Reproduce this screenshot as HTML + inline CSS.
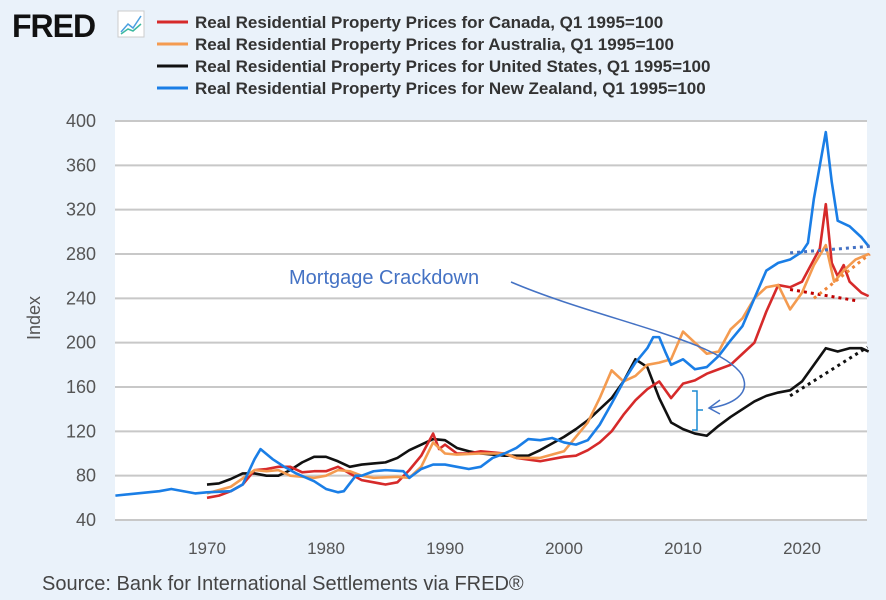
<!DOCTYPE html>
<html><head><meta charset="utf-8"><style>
body{margin:0;width:886px;height:600px;background:#eaf2fa;font-family:"Liberation Sans",sans-serif;overflow:hidden}
svg{position:absolute;left:0;top:0}
</style></head><body>
<svg id="c" width="886" height="600">
<text x="12" y="37" font-size="32" font-weight="bold" fill="#111" letter-spacing="-1">FRED</text>
<g><rect x="118" y="11" width="26" height="26" fill="#fff" stroke="#ccc"/><polyline points="121,32 128,24 133,28 141,16" fill="none" stroke="#4a9fe0" stroke-width="1.5"/><polyline points="121,34 128,29 133,31 141,24" fill="none" stroke="#3cb9a0" stroke-width="1.5"/></g>
<g id="legend"></g>
<g id="grid"></g><g id="series"></g>
<text x="42" y="590" font-size="20" fill="#444">Source: Bank for International Settlements via FRED®</text>
<text transform="translate(40,318) rotate(-90)" text-anchor="middle" font-size="18" fill="#555">Index</text>
<g>
<text x="289" y="284" font-size="20" fill="#4472c4">Mortgage Crackdown</text>
<path d="M511,282 C600,320 720,340 742,375 C752,395 730,405 710,408" fill="none" stroke="#4472c4" stroke-width="1.5"/>
<path d="M720,400 L709,408 L720,414" fill="none" stroke="#4472c4" stroke-width="1.5"/>
<path d="M692,391 L697,391 L697,430 L692,430 M697,410 L703,410" fill="none" stroke="#1a8ad4" stroke-width="1.5"/>
</g>
</svg>
<script>
const yTicks=[40,80,120,160,200,240,280,320,360,400];
const xTicks=[1970,1980,1990,2000,2010,2020];
const nzYears=[1962.3,1966,1967,1969,1970,1972,1973,1974,1974.5,1975.5,1976.5,1977.5,1979,1980,1981,1981.5,1982.5,1983,1984,1985,1986.5,1987,1988,1989,1990,1991,1992,1993,1994,1995,1996,1997,1998,1999,2000,2001,2002,2003,2004,2005,2006,2007,2007.5,2008,2008.5,2009,2010,2011,2012,2013,2014,2015,2016,2017,2018,2019,2020,2020.5,2021,2021.5,2022,2022.5,2023,2024,2025,2025.6];
const nzValues=[62,66,68,64,65,66,72,95,104,95,88,82,75,68,65,66,80,80,84,85,84,78,86,90,90,88,86,88,96,100,105,113,112,114,110,108,112,126,145,165,182,195,205,205,192,180,185,176,178,188,202,215,240,265,272,275,282,290,330,360,390,345,310,305,295,287];
const caYears=[1970,1971,1972,1973,1974,1975,1976,1977,1978,1979,1980,1981,1982,1983,1984,1985,1986,1987,1988,1989,1989.5,1990,1991,1992,1993,1995,1996,1998,2000,2001,2002,2003,2004,2005,2006,2007,2008,2009,2010,2011,2012,2013,2014,2015,2016,2017,2018,2019,2020,2021,2021.5,2022,2022.5,2023,2023.5,2024,2025,2025.6];
const caValues=[60,62,66,72,85,86,88,88,83,84,84,88,82,76,74,72,74,85,98,118,104,108,100,100,102,100,96,93,97,98,103,110,120,135,148,158,165,150,163,166,172,176,180,190,200,228,252,250,255,275,285,325,272,260,270,255,245,242];
const auYears=[1970,1972,1974,1975,1976,1977,1979,1980,1981,1982,1983,1984,1986,1987,1988,1989,1990,1991,1993,1995,1996,1998,2000,2002,2003,2004,2005,2006,2007,2008,2009,2010,2011,2012,2013,2014,2015,2016,2017,2018,2019,2020,2021,2022,2022.7,2023.5,2024.5,2025.6];
const auValues=[64,70,85,84,85,80,78,80,85,84,80,78,79,78,88,110,100,99,100,100,96,96,102,128,150,175,165,170,180,182,185,210,200,190,192,212,222,240,250,252,230,245,270,288,255,265,275,280];
const usYears=[1970,1971,1972,1973,1974,1975,1976,1977,1978,1979,1980,1981,1982,1983,1984,1985,1986,1987,1988,1989,1990,1991,1992,1993,1995,1997,1998,2000,2001,2002,2003,2004,2005,2006,2007,2008,2009,2010,2011,2012,2013,2014,2015,2016,2017,2018,2019,2020,2021,2022,2023,2024,2025,2025.6];
const usValues=[72,73,77,82,82,80,80,85,92,97,97,93,88,90,91,92,96,103,108,113,112,105,102,100,98,98,103,115,122,130,140,150,165,185,178,150,128,122,118,116,125,133,140,147,152,155,157,165,180,195,192,195,195,192];
const trendYears=[[2019,2025.7],[2019,2024.5],[2021,2025.7],[2019,2025.5]];
const trendValues=[[281,287],[248,238],[240,280],[152,196]];
const colors=['#1a7ee6','#d62a2a','#f49b50','#111'];
const trendColors=['#4472c4','#c00000','#f0883a','#111'];
const names=['new-zealand','canada','australia','united-states'];
const legendLabels=['Real Residential Property Prices for Canada, Q1 1995=100','Real Residential Property Prices for Australia, Q1 1995=100','Real Residential Property Prices for United States, Q1 1995=100','Real Residential Property Prices for New Zealand, Q1 1995=100'];
const legendColors=['#d62a2a','#f49b50','#111','#1a7ee6'];
const X=y=>207+(y-1970)*11.9, Y=v=>520-(v-40)*1.1083;
const NS='http://www.w3.org/2000/svg';
function mk(t,a,p){const e=document.createElementNS(NS,t);for(const k in a)e.setAttribute(k,a[k]);p.appendChild(e);return e;}
const g=document.getElementById('grid'),s=document.getElementById('series'),L=document.getElementById('legend');
const bg=mk('rect',{x:115,y:121,width:752,height:399,fill:'#fff'},g);


yTicks.forEach(v=>{const l=mk('line',{x1:115,x2:867,y1:Y(v),y2:Y(v),stroke:'#c8c8c8','stroke-width':2},g);


const t=mk('text',{x:96,y:Y(v)+6,'text-anchor':'end','font-size':18,fill:'#555'},g);t.textContent=v;

});
xTicks.forEach(y=>{const t=mk('text',{x:X(y),y:554,'text-anchor':'middle','font-size':17,fill:'#555'},g);t.textContent=y;

});
const yrs=[nzYears,caYears,auYears,usYears],vals=[nzValues,caValues,auValues,usValues];
[3,1,2,0].forEach(i=>{const p=mk('polyline',{points:yrs[i].map((y,j)=>X(y)+','+Y(vals[i][j])).join(' '),fill:'none',stroke:colors[i],'stroke-width':2.6,'stroke-linejoin':'round'},s);

});
trendYears.forEach((ty,i)=>{const l=mk('line',{x1:X(ty[0]),x2:X(ty[1]),y1:Y(trendValues[i][0]),y2:Y(trendValues[i][1]),stroke:trendColors[i],'stroke-width':3,'stroke-dasharray':'3 4'},s);

});
legendLabels.forEach((t,i)=>{const yy=22+i*22;
const ln=mk('line',{x1:157,x2:188,y1:yy,y2:yy,stroke:legendColors[i],'stroke-width':3},L);


const tx=mk('text',{x:195,y:yy+6,'font-size':17,'font-weight':'bold',fill:'#333'},L);tx.textContent=t;

});
</script>
</body></html>
